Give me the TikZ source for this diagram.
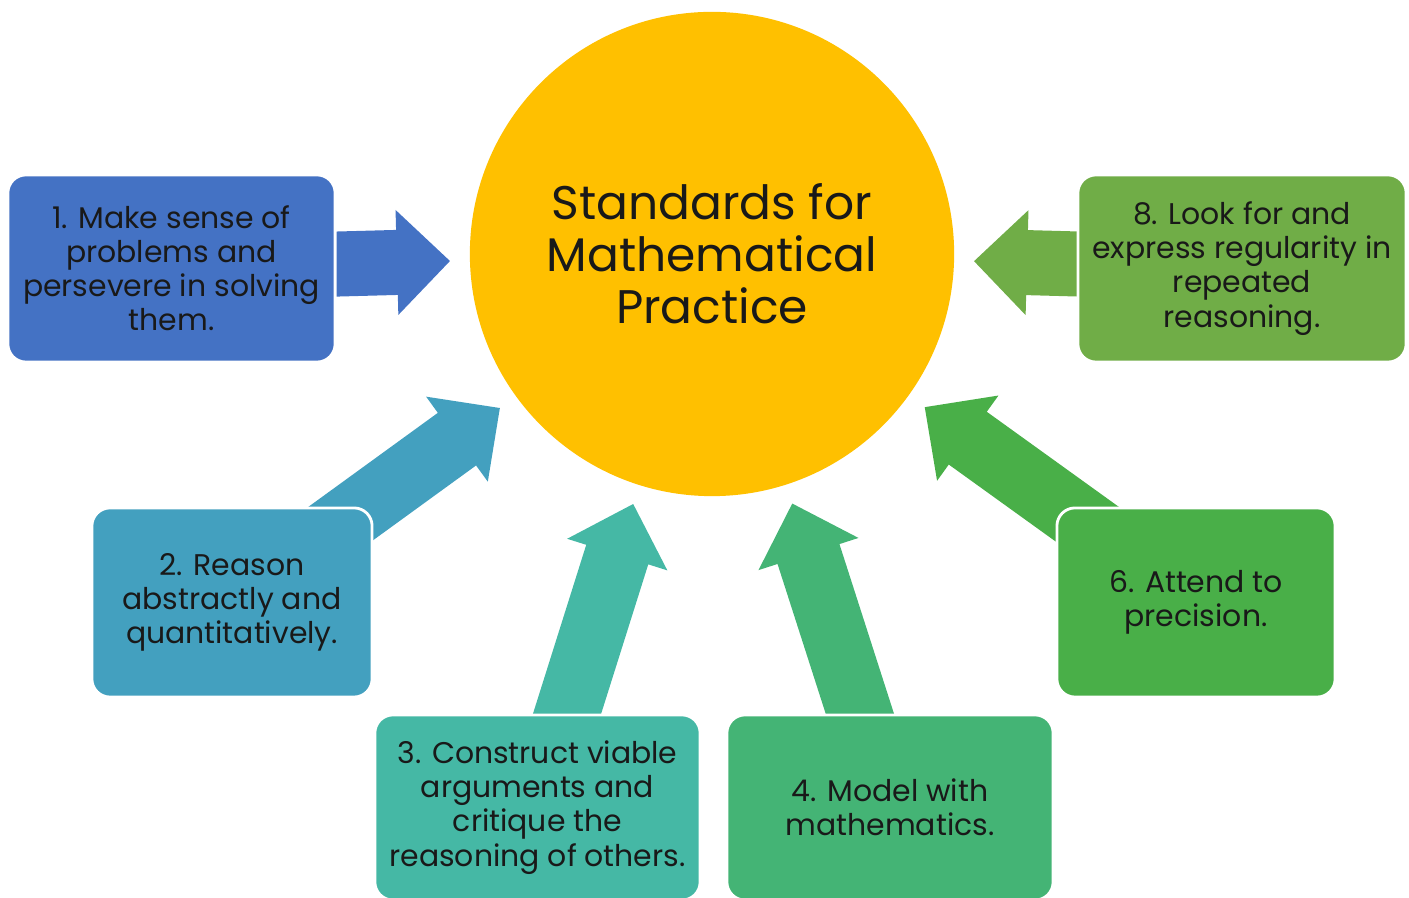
\documentclass[tikz,border=0pt]{standalone}
\usepackage{fontspec}
\setmainfont{Poppins}
\usepackage{xcolor}
\usepackage{tikz}
\usetikzlibrary{positioning,calc,backgrounds}

\definecolor{smpgold}{HTML}{FFC000}
\definecolor{smpone}{HTML}{4472C4}
\definecolor{smptwo}{HTML}{43A0BF}
\definecolor{smpthree}{HTML}{45B8A5}
\definecolor{smpfour}{HTML}{44B475}
\definecolor{smpsix}{HTML}{49AF48}
\definecolor{smpeight}{HTML}{70AD47}

\newcommand{\shaftw}{0.325cm}
\newcommand{\headw}{0.525cm}
\newcommand{\headl}{0.53cm}

% fat arrow: colour, box it leaves, tip
\newcommand{\blockarrow}[3]{%
  \coordinate (#2-hb) at ($(#3)!\headl!(#2.center)$);
  \fill[#1] ($(#2.center)!\shaftw!90:(#3)$) -- ($(#2-hb)!\shaftw!90:(#3)$)
    -- ($(#2-hb)!\headw!90:(#3)$) -- (#3)
    -- ($(#2-hb)!\headw!-90:(#3)$) -- ($(#2-hb)!\shaftw!-90:(#3)$)
    -- ($(#2.center)!\shaftw!-90:(#3)$) -- cycle;
}

\begin{document}
\begin{tikzpicture}[
  x=0.01cm, y=-0.01cm,
  practice/.style={draw=white, line width=0.8pt, rounded corners=0.18cm,
    align=center, inner sep=0pt, text=black!90,
    font=\fontsize{8.5}{9.7}\selectfont},
  hub/.style={circle, fill=smpgold, inner sep=0pt, minimum size=4.84cm,
    align=center, text=black!90, font=\fontsize{13.4}{14.8}\selectfont}
]
\useasboundingbox (0,0) rectangle (1409,898);

\node[hub] (smp) at (712,254) {Standards for\\Mathematical\\Practice};

\node[practice, fill=smpone, minimum width=3.27cm, minimum height=1.87cm] (b1) at (171.5,268.5)
  {1. Make sense of\\problems and\\persevere in solving\\them.};
\node[practice, fill=smptwo, minimum width=2.80cm, minimum height=1.89cm] (b2) at (232,602.5)
  {2. Reason\\abstractly and\\quantitatively.};
\node[practice, fill=smpthree, minimum width=3.25cm, minimum height=1.85cm] (b3) at (537.5,807.5)
  {3. Construct viable\\arguments and\\critique the\\reasoning of others.};
\node[practice, fill=smpfour, minimum width=3.26cm, minimum height=1.85cm] (b4) at (890,807.5)
  {4. Model with\\mathematics.};
\node[practice, fill=smpsix, minimum width=2.78cm, minimum height=1.89cm] (b6) at (1196,602.5)
  {6. Attend to\\precision.};
\node[practice, fill=smpeight, minimum width=3.28cm, minimum height=1.87cm] (b8) at (1242,268.5)
  {8. Look for and\\express regularity in\\repeated\\reasoning.};

\foreach \b in {b1,b2,b3,b4,b6,b8}
  \coordinate (\b-tip) at ($(smp.center)!2.62cm!(\b.center)$);

\begin{pgfonlayer}{background}
  \blockarrow{smpone}{b1}{b1-tip}
  \blockarrow{smptwo}{b2}{b2-tip}
  \blockarrow{smpthree}{b3}{b3-tip}
  \blockarrow{smpfour}{b4}{b4-tip}
  \blockarrow{smpsix}{b6}{b6-tip}
  \blockarrow{smpeight}{b8}{b8-tip}
\end{pgfonlayer}
\end{tikzpicture}
\end{document}
